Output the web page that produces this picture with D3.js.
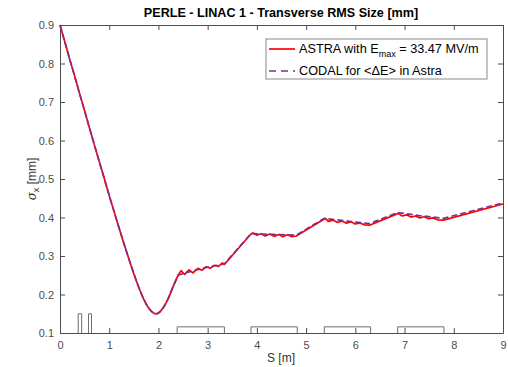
<!DOCTYPE html>
<html>
<head>
<meta charset="utf-8">
<script src="https://cdn.jsdelivr.net/npm/d3@7"></script>
<style>
  body { margin: 0; background: #fff; }
  svg { font-family: "Liberation Sans", Arial, sans-serif; }
  .axis text { fill: #4d4d4d; font-size: 11px; }
  .axis path, .axis line { stroke: #4d4d4d; }
</style>
</head>
<body>
<div id="graph"></div>
<script>
// ASTRA (solid red) - s [m] and sigma_x [mm]
const astraS = [0, 0.1, 0.2, 0.3, 0.4, 0.5, 0.6, 0.7, 0.8, 0.9, 1.0, 1.1, 1.2, 1.3, 1.4, 1.5, 1.6, 1.7, 1.8, 1.9, 1.95, 2.0, 2.1, 2.2, 2.3,
  2.40, 2.46, 2.53, 2.62, 2.70, 2.80, 2.88, 2.97, 3.05, 3.14, 3.22, 3.30, 3.34,
  3.88, 3.92, 4.00, 4.08, 4.17, 4.26, 4.35, 4.44, 4.53, 4.62, 4.71, 4.80,
  5.37, 5.40, 5.45, 5.55, 5.64, 5.73, 5.82, 5.91, 6.00, 6.09, 6.18, 6.29,
  6.86, 6.88, 6.95, 7.04, 7.13, 7.22, 7.31, 7.40, 7.49, 7.58, 7.67, 7.79,
  9.0];
const astraSig = [0.900, 0.855, 0.810, 0.766, 0.721, 0.677, 0.632, 0.588, 0.544, 0.501, 0.457, 0.415, 0.373, 0.332, 0.292, 0.254, 0.219, 0.188, 0.165, 0.152, 0.150, 0.152, 0.166, 0.190, 0.221,
  0.250, 0.262, 0.252, 0.264, 0.256, 0.268, 0.263, 0.272, 0.268, 0.276, 0.273, 0.282, 0.278,
  0.357, 0.360, 0.354, 0.358, 0.352, 0.357, 0.351, 0.356, 0.350, 0.355, 0.350, 0.352,
  0.396, 0.397, 0.390, 0.393, 0.387, 0.391, 0.385, 0.389, 0.383, 0.386, 0.381, 0.380,
  0.410, 0.410, 0.404, 0.407, 0.401, 0.404, 0.399, 0.402, 0.397, 0.399, 0.394, 0.393,
  0.435];

// CODAL (dashed purple)
const codalS = [0, 0.1, 0.2, 0.3, 0.4, 0.5, 0.6, 0.7, 0.8, 0.9, 1.0, 1.1, 1.2, 1.3, 1.4, 1.5, 1.6, 1.7, 1.8, 1.9, 1.95, 2.0, 2.1, 2.2, 2.3,
  2.40, 2.6, 2.8, 3.0, 3.2, 3.34, 3.88, 4.3, 4.80, 5.37, 5.8, 6.29, 6.86, 7.3, 7.79, 9.0];
const codalSig = [0.900, 0.855, 0.810, 0.766, 0.721, 0.677, 0.632, 0.588, 0.544, 0.501, 0.457, 0.415, 0.373, 0.332, 0.292, 0.254, 0.219, 0.188, 0.165, 0.152, 0.150, 0.152, 0.166, 0.190, 0.221,
  0.250, 0.258, 0.265, 0.271, 0.276, 0.280, 0.358, 0.356, 0.354, 0.398, 0.391, 0.384, 0.413, 0.405, 0.398, 0.438];

// beamline elements: start, end, height [mm on axis]
const elemStart = [0.37, 0.58, 2.38, 3.88, 5.37, 6.86];
const elemEnd = [0.44, 0.64, 3.34, 4.82, 6.31, 7.80];
const elemTop = [0.15, 0.15, 0.116, 0.116, 0.116, 0.116];

const xTicks = [0, 1, 2, 3, 4, 5, 6, 7, 8, 9];
const yTicks = [0.1, 0.2, 0.3, 0.4, 0.5, 0.6, 0.7, 0.8, 0.9];

const W = 508, H = 367;
const m = { left: 60, right: 5, top: 25, bottom: 34 };
const linacStart = 2.4; // smooth curve before, straight drift pieces after

const svg = d3.select("#graph").append("svg").attr("width", W).attr("height", H);

const x = d3.scaleLinear().domain([0, 9]).range([m.left, W - m.right]);
const y = d3.scaleLinear().domain([0.1, 0.9]).range([H - m.bottom, m.top]);

// axes (ticks inside, box all round)
svg.append("g").attr("class", "axis").attr("transform", `translate(0,${H - m.bottom})`)
  .call(d3.axisBottom(x).tickValues(xTicks).tickSize(-5).tickSizeOuter(0).tickPadding(8).tickFormat(d3.format("d")));
svg.append("g").attr("class", "axis").attr("transform", `translate(0,${m.top})`)
  .call(d3.axisTop(x).tickValues(xTicks).tickSize(-5).tickSizeOuter(0).tickFormat(""));
svg.append("g").attr("class", "axis").attr("transform", `translate(${m.left},0)`)
  .call(d3.axisLeft(y).tickValues(yTicks).tickSize(-5).tickSizeOuter(0).tickPadding(6).tickFormat(d3.format(".1f")));
svg.append("g").attr("class", "axis").attr("transform", `translate(${W - m.right},0)`)
  .call(d3.axisRight(y).tickValues(yTicks).tickSize(-5).tickSizeOuter(0).tickFormat(""));

// elements
svg.append("g").selectAll("path").data(elemStart).join("path")
  .attr("d", (d, i) => `M${x(d)},${y(0.1)}V${y(elemTop[i])}H${x(elemEnd[i])}V${y(0.1)}`)
  .attr("fill", "none").attr("stroke", "#6e6e6e").attr("stroke-width", 1);

// lines
const astra = astraS.map((s, i) => [s, astraSig[i]]);
const codal = codalS.map((s, i) => [s, codalSig[i]]);
const smooth = d3.line().x(d => x(d[0])).y(d => y(d[1])).curve(d3.curveMonotoneX);
const straight = d3.line().x(d => x(d[0])).y(d => y(d[1]));
const draw = (data) => smooth(data.filter(d => d[0] <= linacStart)) + straight(data.filter(d => d[0] >= linacStart)).replace(/^M/, "L");

svg.append("path").attr("d", draw(astra))
  .attr("fill", "none").attr("stroke", "#ff0000").attr("stroke-width", 1.7).attr("stroke-linejoin", "round");
svg.append("path").attr("d", draw(codal))
  .attr("fill", "none").attr("stroke", "#7e2f8e").attr("stroke-width", 1.7)
  .attr("stroke-dasharray", "6,3");

// title
svg.append("text").attr("x", 281).attr("y", 17).attr("text-anchor", "middle")
  .style("font-size", "12.6px").style("font-weight", "bold").attr("fill", "#000")
  .text("PERLE - LINAC 1 - Transverse RMS Size [mm]");

// axis labels
svg.append("text").attr("x", 281).attr("y", 362).attr("text-anchor", "middle")
  .style("font-size", "12px").attr("fill", "#333").text("S [m]");
const yl = svg.append("text").attr("transform", `translate(36,${(m.top + H - m.bottom) / 2}) rotate(-90)`)
  .attr("text-anchor", "middle").style("font-size", "12px").attr("fill", "#333");
yl.append("tspan").style("font-style", "italic").attr("font-family", "DejaVu Serif").text("σ");
yl.append("tspan").attr("dy", 3).style("font-size", "9px").text("x");
yl.append("tspan").attr("dy", -3).text(" [mm]");

// legend
const lg = svg.append("g");
lg.append("rect").attr("x", 266).attr("y", 39).attr("width", 221).attr("height", 40)
  .attr("fill", "#fff").attr("stroke", "#8a8a8a").attr("stroke-width", 1);
lg.append("line").attr("x1", 269).attr("x2", 295).attr("y1", 49).attr("y2", 49)
  .attr("stroke", "#ff0000").attr("stroke-width", 1.7);
lg.append("line").attr("x1", 269).attr("x2", 295).attr("y1", 71).attr("y2", 71)
  .attr("stroke", "#7e2f8e").attr("stroke-width", 1.7).attr("stroke-dasharray", "7,5");
const t1 = lg.append("text").attr("x", 299).attr("y", 53).style("font-size", "12.7px").attr("fill", "#000");
t1.append("tspan").text("ASTRA with E");
t1.append("tspan").attr("dy", 4).style("font-size", "9px").text("max");
t1.append("tspan").attr("dy", -4).text(" = 33.47 MV/m");
lg.append("text").attr("x", 299).attr("y", 75).style("font-size", "12.7px").attr("fill", "#000")
  .text("CODAL for <ΔE> in Astra");
</script>
</body>
</html>
